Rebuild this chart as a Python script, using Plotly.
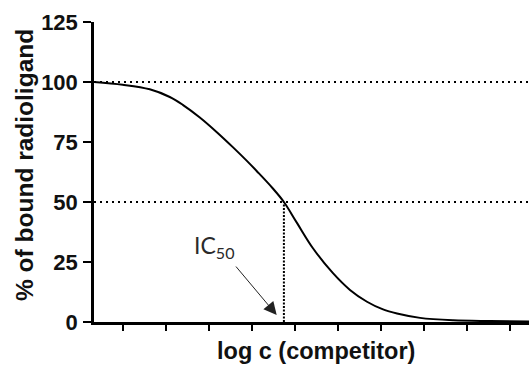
import plotly.graph_objects as go

# Curve readings (log c in tick units, % bound)
log_c = [0.319, 0.993, 1.621, 2.086, 2.388, 2.784, 3.179, 3.551, 3.877, 4.109, 4.481,
         4.737, 5.040, 5.412, 5.877, 6.272, 6.667, 7.040, 7.365, 7.900, 8.667, 9.528, 10.435]
bound = [100.0, 98.84, 96.95, 93.75, 90.5, 85.23, 79.11, 72.87, 67.13, 62.83, 55.63,
         50.0, 41.3, 30.74, 20.34, 13.37, 8.44, 5.24, 3.56, 1.72, 0.73, 0.4, 0.2]

x_ticks = [1, 2, 3, 4, 5, 6, 7, 8, 9, 10]
y_ticks = [0, 25, 50, 75, 100, 125]
ref_levels = [100, 50]
ic50_x = 4.737
ic50_y = 50
x_range = [0.326, 10.43]
y_range = [0, 125]

BOLD = "Liberation Sans, Arial, sans-serif"

fig = go.Figure()
fig.add_trace(go.Scatter(x=log_c, y=bound, mode="lines",
                         line=dict(color="black", width=2, shape="spline", smoothing=1.0),
                         hoverinfo="skip", showlegend=False))

shapes = []
for lv in ref_levels:
    shapes.append(dict(type="line", xref="paper", yref="y", x0=0, x1=1, y0=lv, y1=lv,
                       line=dict(color="black", width=2, dash="2px,4px"), layer="below"))
shapes.append(dict(type="line", xref="x", yref="y", x0=ic50_x, x1=ic50_x, y0=0, y1=ic50_y,
                   line=dict(color="black", width=2, dash="2px,1.5px"), layer="below"))

W, H = 529, 367
ml, mr, mt, mb = 94, 0, 22, 45
pw, ph = W - ml - mr, H - mt - mb

def px(xp):
    return (xp - ml) / pw

def py(yp):
    return (H - mb - yp) / ph

annotations = [
    dict(x=4.57, y=2.9, xref="x", yref="y", text="", showarrow=True,
         ax=-42, ay=-50, axref="pixel", ayref="pixel",
         arrowhead=2, arrowsize=2.6, arrowwidth=1, arrowcolor="#222"),
    dict(x=3.11, y=31.5, xref="x", yref="y", text="IC<sub>50</sub>", showarrow=False,
         font=dict(family="Lato, Open Sans, sans-serif", size=23, color="#2a2a2a")),
    dict(x=px(24), y=py(165), xref="paper", yref="paper", text="% of bound radioligand",
         showarrow=False, textangle=-90, xanchor="center", yanchor="middle",
         font=dict(family=BOLD, size=24.5, color="#111", weight="bold")),
    dict(x=px(316), y=py(351), xref="paper", yref="paper", text="log c (competitor)",
         showarrow=False, xanchor="center", yanchor="middle",
         font=dict(family=BOLD, size=23.5, color="#111", weight="bold")),
]

fig.update_layout(
    width=W, height=H,
    margin=dict(l=ml, r=mr, t=mt, b=mb, pad=0),
    paper_bgcolor="white", plot_bgcolor="white",
    shapes=shapes, annotations=annotations,
    xaxis=dict(range=x_range, tickvals=x_ticks, showticklabels=False,
               ticks="outside", ticklen=6, tickwidth=2, tickcolor="black",
               showline=True, linecolor="black", linewidth=2.5,
               showgrid=False, zeroline=False, fixedrange=True),
    yaxis=dict(range=y_range, tickvals=y_ticks, ticks="outside", ticklen=8,
               tickwidth=2, tickcolor="black", ticklabelstandoff=1,
               showline=True, linecolor="black", linewidth=2.5,
               showgrid=False, zeroline=False, fixedrange=True,
               tickfont=dict(family=BOLD, size=22, color="#111", weight="bold")),
)

fig.write_html("out.html")
